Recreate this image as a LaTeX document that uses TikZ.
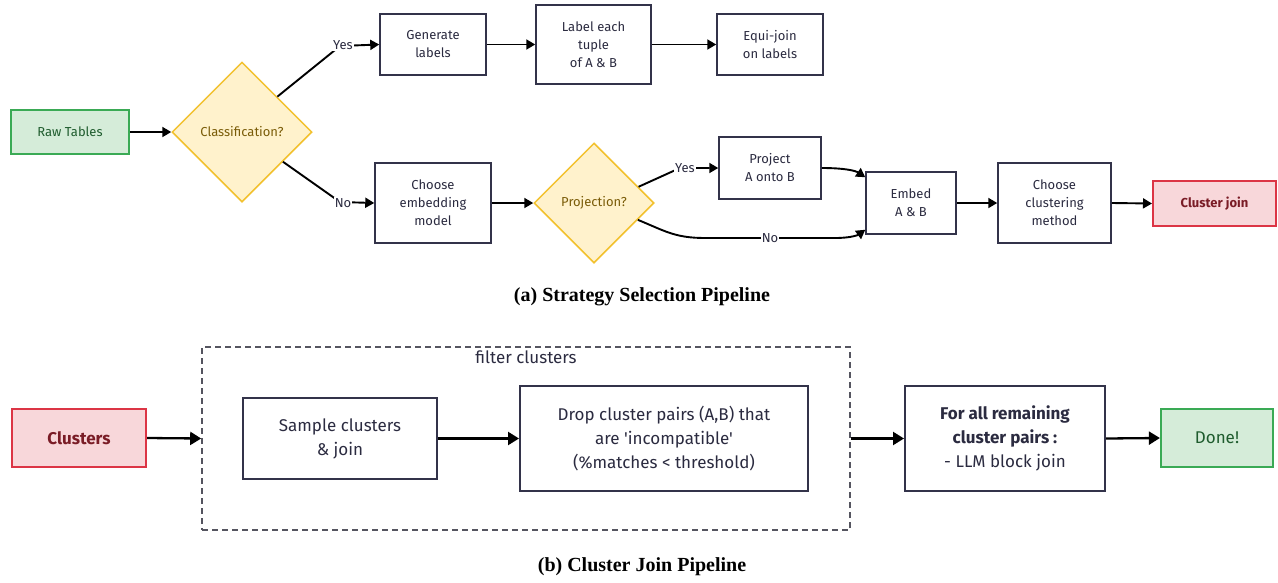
\documentclass[tikz,border=0pt]{standalone}
\usepackage{fontspec}
\usetikzlibrary{arrows.meta,shapes.geometric,calc}
\newfontfamily\boxfont{Fira Sans}
\newfontfamily\capfont{Liberation Serif}
\definecolor{boxc}{HTML}{33334A}
\definecolor{textc}{HTML}{2B2B40}
\definecolor{gfill}{HTML}{D5ECD9}
\definecolor{gline}{HTML}{3AAA55}
\definecolor{gtext}{HTML}{1F5C2E}
\definecolor{yfill}{HTML}{FFF2CC}
\definecolor{yline}{HTML}{F2C12E}
\definecolor{ytext}{HTML}{7A5C08}
\definecolor{rfill}{HTML}{F8D7DA}
\definecolor{rline}{HTML}{DC3545}
\definecolor{rtext}{HTML}{7A1C26}
\definecolor{dashc}{HTML}{555560}
\tikzset{
  x=1pt, y=-1pt,
  topfont/.style={font=\boxfont\fontsize{13}{18}\selectfont},
  botfont/.style={font=\boxfont\fontsize{17}{24}\selectfont},
  box/.style={draw=boxc, line width=1.5pt, fill=white, text=textc, align=center, inner sep=0pt},
  bbox/.style={box, line width=2pt},
  gbox/.style={box, draw=gline, fill=gfill, text=gtext},
  rbox/.style={box, draw=rline, fill=rfill, text=rtext},
  decision/.style={diamond, aspect=1, draw=yline, line width=1.5pt, fill=yfill, text=ytext, inner sep=0pt, align=center},
  arr/.style={draw=black, line width=1.9pt, -{Triangle[length=9pt,width=10pt]}},
  arrb/.style={draw=black, line width=2.3pt, -{Triangle[length=11pt,width=13pt]}},
  elabel/.style={topfont, text=textc, fill=white, inner sep=1pt},
  caption/.style={font=\capfont\bfseries\fontsize{20}{24}\selectfont, text=black}
}
\begin{document}
\begin{tikzpicture}
\useasboundingbox (0,0) rectangle (1278,582);
% ---------- (a) ----------
\node[gbox, topfont, minimum width=118pt, minimum height=44pt] (raw) at (70,132) {Raw Tables};
\node[decision, topfont, minimum width=140pt, minimum height=140pt] (cls) at (242,132) {Classification?};
\node[box, topfont, minimum width=106pt, minimum height=61pt] (gen) at (433,44.5) {Generate\\labels};
\node[box, topfont, minimum width=115pt, minimum height=79pt] (lab) at (593.5,44.5) {Label each\\tuple\\of A \& B};
\node[box, topfont, minimum width=106pt, minimum height=61pt] (equi) at (770,44.5) {Equi-join\\on labels};
\node[box, topfont, minimum width=116pt, minimum height=80pt] (emb) at (433,203) {Choose\\embedding\\model};
\node[decision, topfont, minimum width=120pt, minimum height=120pt] (proj) at (594,203) {Projection?};
\node[box, topfont, minimum width=102pt, minimum height=62pt] (pab) at (770,168) {Project\\A onto B};
\node[box, topfont, minimum width=90pt, minimum height=62pt] (embab) at (911,203) {Embed\\A \& B};
\node[box, topfont, minimum width=113pt, minimum height=80pt] (clm) at (1054.5,203) {Choose\\clustering\\method};
\node[rbox, topfont, line width=2pt, font=\boxfont\bfseries\fontsize{13}{18}\selectfont, minimum width=123pt, minimum height=45pt] (cj) at (1214.5,203.5) {Cluster join};

\draw[arr] (raw.east) -- (cls.west);
\coordinate (yb) at (340,46);
\draw[arr] (cls.north east) -- (yb) -- (gen.west);
\node[elabel] (yes1) at (343,45) {Yes};
\draw[arr] (gen.east) -- (lab.west);
\draw[arr] (lab.east) -- (equi.west);
\coordinate (nb) at (340,202);
\draw[arr] (cls.-36) -- (nb) -- (emb.west);
\node[elabel] (no1) at (343,203) {No};
\draw[arr] (emb.east) -- (proj.west);
\coordinate (yb2) at (680,168);
\draw[arr] (proj.20) -- (yb2) -- (pab.west);
\node[elabel] (yes2) at (685,168) {Yes};
\coordinate (e1) at ($(embab.north west)+(0,6)$);
\coordinate (e2) at ($(embab.south west)+(0,-5)$);
\draw[arr] (pab.east) .. controls (846,168) and (856,171) .. (e1);
\draw[arr] (proj.-21) .. controls (665,231) and (675,238) .. (705,238) -- (835,238) .. controls (851,238) and (858,235) .. (e2);
\node[elabel] (no2) at (770,238) {No};
\draw[arr] (embab.east) -- (clm.west);
\draw[arr] (clm.east) -- (cj.west);

\node[caption] (capa) at (642,297) {(a) Strategy Selection Pipeline};

% ---------- (b) ----------
\node[rbox, line width=2.2pt, font=\boxfont\bfseries\fontsize{17}{24}\selectfont, minimum width=134pt, minimum height=58pt] (clu) at (79,438) {Clusters};
\node[draw=dashc, line width=1.6pt, dash pattern=on 6pt off 4pt, minimum width=648pt, minimum height=183pt, inner sep=0pt] (filt) at (526,438.5) {};
\node[botfont, text=textc, inner sep=0pt] (filtl) at (526,357) {filter clusters};
\node[bbox, botfont, minimum width=194pt, minimum height=81pt] (samp) at (340,438.5) {Sample clusters\\\& join};
\node[bbox, botfont, minimum width=288pt, minimum height=105pt] (drop) at (664,438.5) {Drop cluster pairs (A,B) that\\are 'incompatible'\\(\%matches < threshold)};
\node[bbox, botfont, minimum width=200pt, minimum height=105pt] (rem) at (1005,438.5) {{\bfseries For all remaining}\\{\bfseries cluster pairs :}\\- LLM block join};
\node[gbox, line width=2.2pt, botfont, minimum width=112pt, minimum height=58pt] (done) at (1217,438) {Done!};

\draw[arrb] (clu.east) -- (filt.west);
\draw[arrb] (samp.east) -- (drop.west);
\draw[arrb] (filt.east) -- (rem.west);
\draw[arrb] (rem.east) -- (done.west);

\node[caption] (capb) at (642,567) {(b) Cluster Join Pipeline};
\end{tikzpicture}
\end{document}
